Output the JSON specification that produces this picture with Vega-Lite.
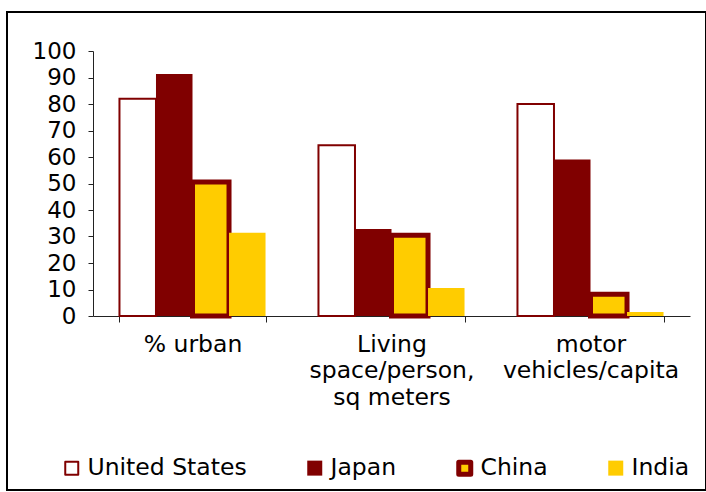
{
  "$schema": "https://vega.github.io/schema/vega-lite/v6.json",
  "width": 699,
  "height": 478,
  "padding": {"left": 7, "top": 12, "right": 0, "bottom": 2},
  "autosize": {"type": "none"},
  "background": "white",
  "config": {
    "font": "DejaVu Sans",
    "view": {"stroke": "#000000", "strokeWidth": 2, "fill": "white"},
    "axis": {"grid": false, "domainColor": "#222222", "tickColor": "#222222", "labelColor": "#000000", "labelFont": "DejaVu Sans"}
  },
  "data": {
    "values": [
      {"category": "% urban", "country": "United States", "value": 82},
      {"category": "% urban", "country": "Japan", "value": 91.3},
      {"category": "% urban", "country": "China", "value": 50.6},
      {"category": "% urban", "country": "India", "value": 31.4},
      {"category": "Living space/person, sq meters", "country": "United States", "value": 64.4},
      {"category": "Living space/person, sq meters", "country": "Japan", "value": 32.8},
      {"category": "Living space/person, sq meters", "country": "China", "value": 30.5},
      {"category": "Living space/person, sq meters", "country": "India", "value": 10.6},
      {"category": "motor vehicles/capita", "country": "United States", "value": 80},
      {"category": "motor vehicles/capita", "country": "Japan", "value": 59.1},
      {"category": "motor vehicles/capita", "country": "China", "value": 8.2},
      {"category": "motor vehicles/capita", "country": "India", "value": 1.5}
    ]
  },
  "mark": {"type": "bar"},
  "encoding": {
    "x": {
      "field": "category",
      "type": "nominal",
      "sort": null,
      "scale": {"range": [86, 683], "paddingInner": 0.266, "paddingOuter": 0.133},
      "axis": {
        "title": null,
        "offset": -174,
        "labelAngle": 0,
        "tickBand": "extent",
        "tickSize": 6,
        "labelPadding": 10,
        "labelFontSize": 23.5,
        "labelLineHeight": 26.5,
        "labelBaseline": "top",
        "labelExpr": "datum.label === 'Living space/person, sq meters' ? ['Living', 'space/person,', 'sq meters'] : datum.label === 'motor vehicles/capita' ? ['motor', 'vehicles/capita'] : datum.label"
      }
    },
    "xOffset": {
      "field": "country",
      "type": "nominal",
      "sort": ["United States", "Japan", "China", "India"],
      "scale": {"paddingInner": 0, "paddingOuter": 0}
    },
    "y": {
      "field": "value",
      "type": "quantitative",
      "scale": {"domain": [0, 100], "range": [304, 39], "nice": false},
      "axis": {
        "title": null,
        "offset": -86,
        "values": [0, 10, 20, 30, 40, 50, 60, 70, 80, 90, 100],
        "tickSize": 5,
        "labelPadding": 12,
        "labelFontSize": 23
      }
    },
    "fill": {
      "field": "country",
      "type": "nominal",
      "scale": {"domain": ["United States", "Japan", "China", "India"], "range": ["#FFFFFF", "#800000", "#FFCC00", "#FFCC00"]},
      "legend": {
        "title": null,
        "orient": "none",
        "legendX": 53,
        "legendY": 444,
        "direction": "horizontal",
        "symbolType": "square",
        "symbolSize": 196,
        "labelFontSize": 23.5,
        "labelOffset": 4,
        "columnPadding": 56,
        "padding": 0,
        "labelColor": "#000000",
        "encode": {
          "symbols": {
            "update": {
              "strokeJoin": {"value": "round"},
              "strokeWidth": {"signal": "datum.value === 'China' ? 5 : datum.value === 'United States' ? 2 : 0"},
              "size": {"signal": "datum.value === 'China' ? 144 : datum.value === 'United States' ? 169 : 225"}
            }
          }
        }
      }
    },
    "stroke": {
      "field": "country",
      "type": "nominal",
      "scale": {"domain": ["United States", "Japan", "China", "India"], "range": ["#800000", "#800000", "#800000", "#FFCC00"]}
    },
    "strokeWidth": {
      "condition": [
        {"test": "datum.country === 'China'", "value": 5},
        {"test": "datum.country === 'United States'", "value": 2}
      ],
      "value": 0
    }
  }
}
